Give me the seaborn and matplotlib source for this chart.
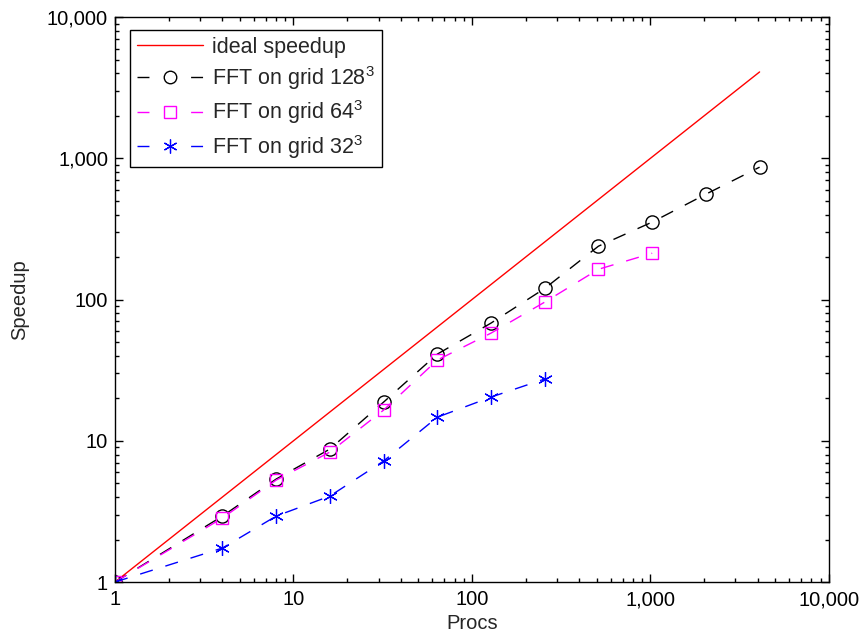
import matplotlib
matplotlib.use("Agg")
import matplotlib.pyplot as plt
import matplotlib.ticker as mticker
from matplotlib.lines import Line2D
import seaborn as sns
import pandas as pd

procs = [1, 4, 8, 16, 32, 64, 128, 256, 512, 1024, 2048, 4096]
ideal = [1, 4, 8, 16, 32, 64, 128, 256, 512, 1024, 2048, 4096]
grid128 = [1, 2.93, 5.36, 8.74, 18.8, 41.1, 68.2, 120, 239, 354, 558, 867]
grid64 = [1, 2.84, 5.27, 8.32, 16.5, 37.3, 57.9, 96, 164, 213]
grid32 = [1, 1.74, 2.93, 4.06, 7.19, 14.7, 20.4, 27.4]

labels = ["ideal speedup", "FFT on grid $128^3$", "FFT on grid $64^3$", "FFT on grid $32^3$"]

sns.set_style("ticks")
plt.rcParams['font.family'] = ['Liberation Sans', 'DejaVu Sans']
plt.rcParams['mathtext.fontset'] = 'custom'
plt.rcParams['mathtext.rm'] = 'Liberation Sans'
plt.rcParams['mathtext.it'] = 'Liberation Sans'

FS = 14.5
LFS = 15.5
DASH = (0, (9.5, 9.5))

fig = plt.figure(figsize=(8.66, 6.37), dpi=100)
ax = fig.add_axes([0.1328, 0.0863, 0.8242, 0.8867])

df_ideal = pd.DataFrame({"x": ideal, "y": ideal})
sns.lineplot(data=df_ideal, x="x", y="y", ax=ax, color="red", lw=1.0, legend=False)

df128 = pd.DataFrame({"x": procs[:len(grid128)], "y": grid128})
sns.lineplot(data=df128, x="x", y="y", ax=ax, color="black", lw=1.0,
             linestyle=DASH, marker="o", markersize=9.5, markerfacecolor="none",
             markeredgecolor="black", markeredgewidth=1.0, legend=False)

df64 = pd.DataFrame({"x": procs[:len(grid64)], "y": grid64})
sns.lineplot(data=df64, x="x", y="y", ax=ax, color="magenta", lw=1.0,
             linestyle=DASH, marker="s", markersize=8, markerfacecolor="none",
             markeredgecolor="magenta", markeredgewidth=1.0, legend=False)

df32 = pd.DataFrame({"x": procs[:len(grid32)], "y": grid32})
sns.lineplot(data=df32, x="x", y="y", ax=ax, color="blue", lw=1.0,
             linestyle=DASH, marker=(6, 2, 0), markersize=10.5,
             markeredgecolor="blue", markeredgewidth=0.9, legend=False)

ax.set_xscale("log")
ax.set_yscale("log")
ax.set_xlim(1, 10000)
ax.set_ylim(1, 10000)

fmt = mticker.FuncFormatter(lambda v, p: f"{int(round(v)):,}")
ax.xaxis.set_major_formatter(fmt)
ax.yaxis.set_major_formatter(fmt)
ax.xaxis.set_minor_formatter(mticker.NullFormatter())
ax.yaxis.set_minor_formatter(mticker.NullFormatter())

ax.tick_params(which="both", direction="in", top=True, right=True, labelsize=FS,
               width=1.0, colors="black")
ax.tick_params(which="major", length=5.5)
ax.tick_params(which="minor", length=3)
ax.tick_params(axis="x", which="major", pad=6)
ax.tick_params(axis="y", which="major", pad=5)
for s in ax.spines.values():
    s.set_linewidth(1.0)
    s.set_color("black")

ax.set_xlabel("Procs", fontsize=FS, labelpad=3)
ax.set_ylabel("Speedup", fontsize=FS, labelpad=13)

LEGDASH = (0, (8.6, 30))
handles = [
    Line2D([], [], color="red", lw=1.0),
    Line2D([], [], color="black", lw=1.0, linestyle=LEGDASH, marker="o", markersize=9,
           markerfacecolor="none", markeredgecolor="black"),
    Line2D([], [], color="magenta", lw=1.0, linestyle=LEGDASH, marker="s", markersize=8,
           markerfacecolor="none", markeredgecolor="magenta"),
    Line2D([], [], color="blue", lw=1.0, linestyle=LEGDASH, marker=(6, 2, 0), markersize=10,
           markeredgecolor="blue", markeredgewidth=0.9),
]
leg = ax.legend(handles, labels, loc="upper left", fontsize=LFS, frameon=True, fancybox=False,
                edgecolor="black", framealpha=1, handlelength=3.1, handletextpad=0.42,
                borderaxespad=0.6, labelspacing=0.3, borderpad=0.3,
                bbox_to_anchor=(0.003, 1.0))
leg.get_frame().set_linewidth(1.0)

fig.savefig("out.png", dpi=100)
